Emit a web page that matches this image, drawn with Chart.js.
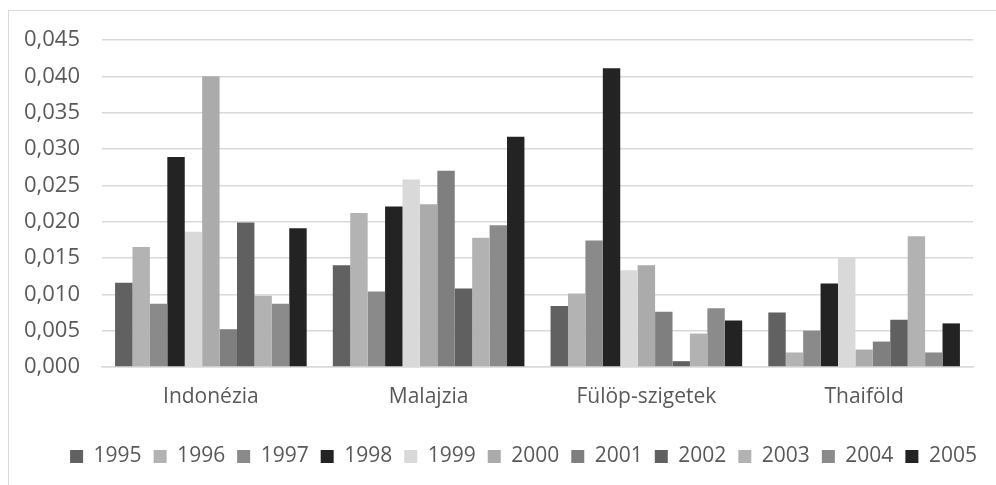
<!DOCTYPE html>
<html>
<head>
<meta charset="utf-8">
<script src="https://cdn.jsdelivr.net/npm/chart.js@4/dist/chart.umd.min.js"></script>
<style>
  html, body { margin: 0; padding: 0; background: #fff; overflow: hidden; }
  #frame { position: absolute; left: 8px; top: 10px; width: 1100px; height: 600px;
           border-left: 1.5px solid #d9d9d9; border-top: 1.5px solid #d9d9d9; }
  #wrap { position: absolute; left: 0; top: 0; width: 996px; height: 485px; }
</style>
</head>
<body>
<div id="frame"></div>
<div id="wrap"><canvas id="chart"></canvas></div>
<script>
// categories and yearly series
const categories = ['Indonézia', 'Malajzia', 'Fülöp-szigetek', 'Thaiföld'];
const years = ['1995', '1996', '1997', '1998', '1999', '2000', '2001', '2002', '2003', '2004', '2005'];

const v1995 = [0.0116, 0.0140, 0.0084, 0.0075];
const v1996 = [0.0165, 0.0212, 0.0101, 0.0020];
const v1997 = [0.0087, 0.0104, 0.0174, 0.0050];
const v1998 = [0.0289, 0.0221, 0.0411, 0.0115];
const v1999 = [0.0186, 0.0258, 0.0133, 0.0150];
const v2000 = [0.0400, 0.0224, 0.0140, 0.0024];
const v2001 = [0.0052, 0.0270, 0.0076, 0.0035];
const v2002 = [0.0199, 0.0108, 0.0008, 0.0065];
const v2003 = [0.0098, 0.0178, 0.0046, 0.0180];
const v2004 = [0.0087, 0.0195, 0.0081, 0.0020];
const v2005 = [0.0191, 0.0317, 0.0064, 0.0060];

const series = [v1995, v1996, v1997, v1998, v1999, v2000, v2001, v2002, v2003, v2004, v2005];
const colors = ['#616161', '#b3b3b3', '#8a8a8a', '#232323', '#d9d9d9', '#ababab',
                '#7f7f7f', '#606060', '#b2b2b2', '#8b8b8b', '#232323'];

const yTickStep = 0.005;
const yMax = 0.045;

const FONT = "'Open Sans', sans-serif";

// Excel centres the legend on the whole frame, which runs past the window
const shiftLegend = {
  id: 'shiftLegend',
  afterLayout(chart) {
    chart.legend.left += 37;
    chart.legend.right += 37;
  }
};

const ctx = document.getElementById('chart').getContext('2d');
new Chart(ctx, {
  type: 'bar',
  data: {
    labels: categories,
    datasets: years.map((y, i) => ({
      label: y,
      data: series[i],
      backgroundColor: colors[i],
      borderWidth: 0,
      categoryPercentage: 0.88,
      barPercentage: 1.0,
    })),
  },
  plugins: [shiftLegend],
  options: {
    responsive: true,
    maintainAspectRatio: false,
    animation: false,
    layout: { padding: { left: 0, right: 23, top: 40, bottom: 8 } },
    plugins: {
      legend: {
        position: 'bottom',
        labels: {
          color: '#595959',
          font: { family: FONT, size: 21 },
          boxWidth: 13,
          boxHeight: 13,
          padding: 12,
        },
      },
      tooltip: { enabled: false },
    },
    scales: {
      x: {
        afterFit: scale => { scale.height = 67; },
        grid: { display: false },
        border: { color: '#d9d9d9', width: 1.5 },
        ticks: { color: '#595959', padding: 9, font: { family: FONT, size: 21 } },
      },
      y: {
        min: 0,
        max: yMax,
        afterFit: scale => { scale.width = 102; },
        grid: { color: '#d9d9d9', lineWidth: 1.5, drawTicks: false },
        border: { display: false },
        ticks: {
          stepSize: yTickStep,
          padding: 22,
          color: '#595959',
          font: { family: FONT, size: 22 },
          callback: value => value.toFixed(3).replace('.', ','),
        },
      },
    },
  },
});
</script>
</body>
</html>
